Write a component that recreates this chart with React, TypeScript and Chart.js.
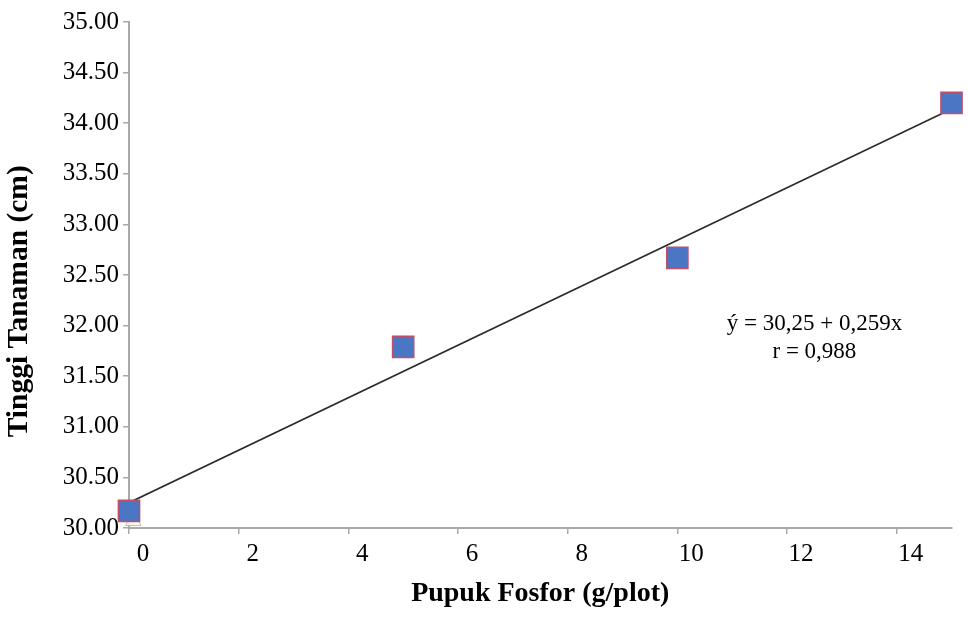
import React, { useEffect, useRef } from "react";
import { Chart, registerables } from "chart.js";

Chart.register(...registerables);

const doses = [0, 5, 10, 15];
const heights = [30.17, 31.79, 32.67, 34.2];
const fitX = [0, 15];
const fitY = [30.25, 34.14];
const originX = [0.08];
const originY = [30.07];
const xTicks = [0, 2, 4, 6, 8, 10, 12, 14];
const yTicks = [30, 30.5, 31, 31.5, 32, 32.5, 33, 33.5, 34, 34.5, 35];
const equationLines = ["ý = 30,25 + 0,259x", "r = 0,988"];
const xTitle = "Pupuk Fosfor (g/plot)";
const yTitle = "Tinggi Tanaman (cm)";

const FONT = "'Liberation Serif', 'Times New Roman', serif";
const AXIS = "#a9a9a9";

const textPlugin = {
  id: "extraText",
  afterDatasetsDraw(chart: any) {
    const { ctx, scales } = chart;
    const x = scales.x.getPixelForValue(12.5);
    const y1 = scales.y.getPixelForValue(32.02);
    const y2 = scales.y.getPixelForValue(31.74);
    ctx.save();
    ctx.font = `23px ${FONT}`;
    ctx.fillStyle = "#000";
    ctx.textAlign = "center";
    ctx.textBaseline = "middle";
    ctx.fillText(equationLines[0], x, y1);
    ctx.fillText(equationLines[1], x, y2);
    // y-axis title
    const ty = scales.y.getPixelForValue(32.24);
    ctx.translate(19, ty);
    ctx.rotate(-Math.PI / 2);
    ctx.font = `bold 29.5px ${FONT}`;
    ctx.fillText(yTitle, 0, 0);
    ctx.restore();
  },
};

export default function App() {
  const ref = useRef<HTMLCanvasElement>(null);
  useEffect(() => {
    if (!ref.current) return;
    const chart = new Chart(ref.current, {
      type: "scatter",
      data: {
        datasets: [
          {
            type: "line",
            label: "fit",
            data: fitX.map((x, i) => ({ x, y: fitY[i] })),
            borderColor: "#2b2b2b",
            borderWidth: 1.6,
            pointRadius: 0,
            fill: false,
            order: 2,
          } as any,
          {
            label: "origin",
            data: originX.map((x, i) => ({ x, y: originY[i] })),
            pointStyle: "triangle",
            pointRadius: 9,
            backgroundColor: "rgba(255,250,240,0.9)",
            borderColor: "#c9b8b0",
            borderWidth: 1,
            clip: false,
            order: 3,
          } as any,
          {
            label: "Tinggi",
            data: doses.map((x, i) => ({ x, y: heights[i] })),
            pointStyle: "rect",
            pointRadius: 15,
            backgroundColor: "#4a76c4",
            borderColor: "#c0506a",
            borderWidth: 1.5,
            clip: false,
            order: 1,
          } as any,
        ],
      },
      options: {
        animation: false,
        responsive: false,
        maintainAspectRatio: false,
        layout: { padding: { top: 22, right: 6, left: 0, bottom: 0 } },
        plugins: {
          legend: { display: false },
          tooltip: { enabled: false },
        },
        scales: {
          x: {
            type: "linear",
            min: 0,
            max: 15,
            afterBuildTicks: (s: any) => {
              s.ticks = xTicks.map((v) => ({ value: v }));
            },
            afterFit: (s: any) => {
              s.height = 103;
            },
            ticks: {
              color: "#000",
              font: { family: FONT, size: 25 },
              padding: 5,
              labelOffset: 14,
              maxRotation: 0,
              autoSkip: false,
            },
            grid: {
              drawOnChartArea: false,
              drawTicks: true,
              tickLength: 6,
              color: AXIS,
              lineWidth: 1.5,
            },
            border: { color: AXIS, width: 2 },
            title: {
              display: true,
              text: xTitle,
              color: "#000",
              font: { family: FONT, size: 28, weight: "bold" },
              padding: { top: 0, bottom: 20 },
            },
          },
          y: {
            type: "linear",
            min: 30,
            max: 35,
            afterBuildTicks: (s: any) => {
              s.ticks = yTicks.map((v) => ({ value: v }));
            },
            afterFit: (s: any) => {
              s.width = 129;
            },
            ticks: {
              color: "#000",
              font: { family: FONT, size: 25 },
              padding: 4,
              callback: (v: any) => Number(v).toFixed(2),
            },
            grid: {
              drawOnChartArea: false,
              drawTicks: true,
              tickLength: 6,
              color: AXIS,
              lineWidth: 1.5,
            },
            border: { color: AXIS, width: 2 },
            title: { display: false },
          },
        },
      },
      plugins: [textPlugin],
    });
    return () => chart.destroy();
  }, []);
  return (
    <div style={{ position: "fixed", left: 0, top: 0, width: 968, height: 631, background: "#fff" }}>
      <canvas ref={ref} width={968} height={631} style={{ width: 968, height: 631 }} />
    </div>
  );
}
